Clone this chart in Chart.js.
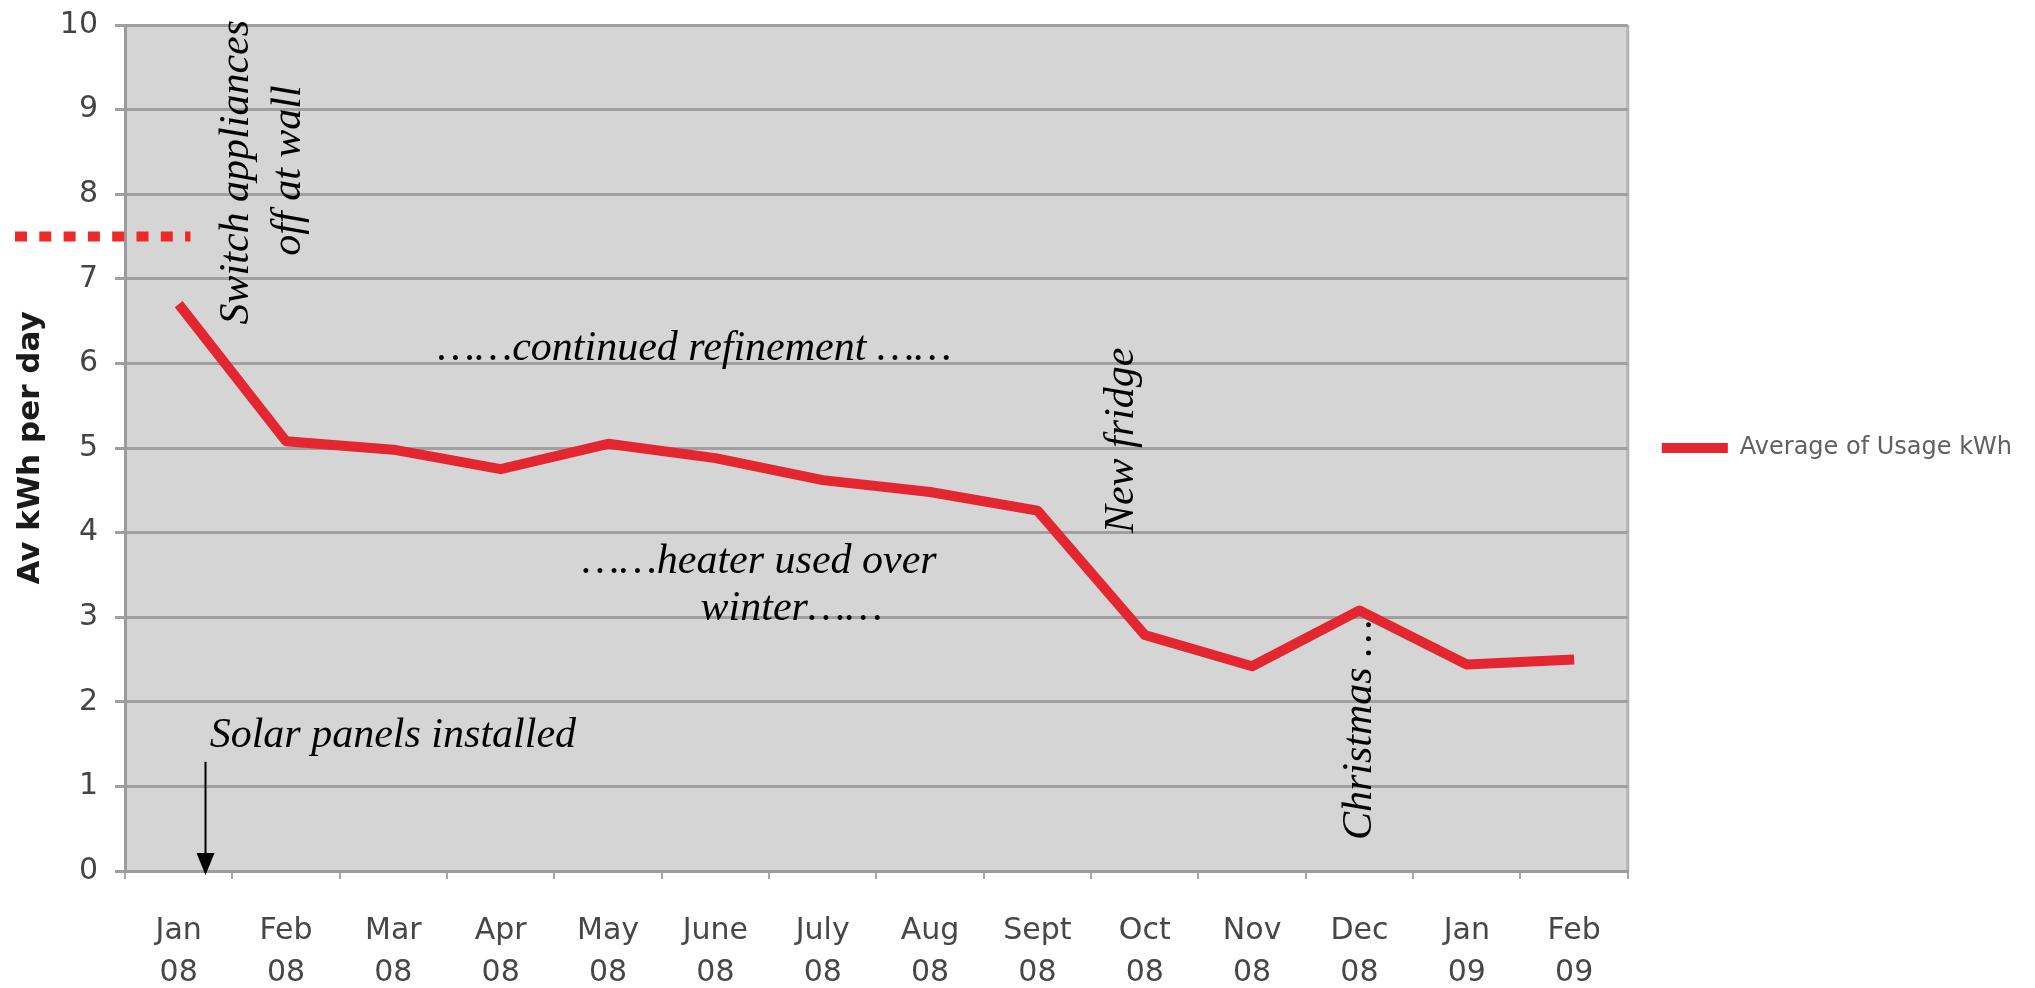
<!DOCTYPE html>
<html>
<head>
<meta charset="utf-8">
<script src="https://cdn.jsdelivr.net/npm/chart.js@4.4.1/dist/chart.umd.min.js"></script>
<style>
  html, body { margin: 0; padding: 0; background: #fff; }
  #wrap { width: 2035px; height: 988px; }
</style>
</head>
<body>
<div id="wrap"><canvas id="grafico"></canvas></div>
<script>
const meses = ["Jan", "Feb", "Mar", "Apr", "May", "June", "July", "Aug", "Sept", "Oct", "Nov", "Dec", "Jan", "Feb"];
const anos = ["08", "08", "08", "08", "08", "08", "08", "08", "08", "08", "08", "08", "09", "09"];
const usoMedio = [6.7, 5.08, 4.98, 4.75, 5.05, 4.88, 4.62, 4.48, 4.26, 2.79, 2.42, 3.08, 2.44, 2.5];
const serieNome = "Average of Usage kWh";
const eixoY = "Av kWh per day";

const VERMELHO = "#e3262f";
const SERIF = "italic 42px 'Liberation Serif', 'Times New Roman', serif";

// notas escritas por cima do grafico: [texto, indice do mes, valor, rodado?, alinhamento]
const notas = [
  ["Switch appliances", 0.643, 8.26, true, "center"],
  ["off at wall", 1.127, 8.28, true, "center"],
  ["\u2026\u2026continued refinement \u2026\u2026", 4.806, 6.04, false, "center"],
  ["\u2026\u2026heater used over", 5.41, 3.52, false, "center"],
  ["winter\u2026\u2026", 5.71, 2.97, false, "center"],
  ["New fridge", 8.886, 5.09, true, "center"],
  ["Christmas \u2026", 11.11, 1.67, true, "center"],
  ["Solar panels installed", 0.289, 1.47, false, "left"]
];

const anotacoes = {
  id: "anotacoes",
  beforeDraw(chart) {
    const { ctx, chartArea: a } = chart;
    ctx.save();
    ctx.fillStyle = "#d5d5d5";
    ctx.fillRect(a.left, a.top, a.right - a.left, a.bottom - a.top);
    ctx.strokeStyle = "#b4b4b4";
    ctx.lineWidth = 3;
    ctx.beginPath();
    ctx.moveTo(a.right, a.top);
    ctx.lineTo(a.right, a.bottom);
    ctx.stroke();
    ctx.restore();
  },
  afterDraw(chart) {
    const { ctx } = chart;
    const x = chart.scales.x;
    const y = chart.scales.y;

    ctx.save();
    ctx.fillStyle = "#000";
    ctx.font = SERIF;
    ctx.textBaseline = "alphabetic";
    notas.forEach(([txt, i, v, rodado, alinh]) => {
      ctx.save();
      ctx.translate(x.getPixelForValue(i), y.getPixelForValue(v));
      if (rodado) ctx.rotate(-Math.PI / 2);
      ctx.textAlign = alinh;
      ctx.fillText(txt, 0, 0);
      ctx.restore();
    });

    // seta dos paineis solares
    const sx = x.getPixelForValue(0.25);
    const ponta = y.getPixelForValue(0) + 4;
    ctx.strokeStyle = "#000";
    ctx.lineWidth = 2;
    ctx.beginPath();
    ctx.moveTo(sx, y.getPixelForValue(1.29));
    ctx.lineTo(sx, ponta - 18);
    ctx.stroke();
    ctx.beginPath();
    ctx.moveTo(sx - 9, ponta - 22);
    ctx.lineTo(sx + 9, ponta - 22);
    ctx.lineTo(sx, ponta);
    ctx.closePath();
    ctx.fill();

    // linha tracejada vermelha
    const ry = y.getPixelForValue(7.5);
    ctx.strokeStyle = "#ee2a26";
    ctx.lineWidth = 10;
    ctx.setLineDash([12, 12.3]);
    ctx.beginPath();
    ctx.moveTo(15, ry);
    ctx.lineTo(x.getPixelForValue(0.11), ry);
    ctx.stroke();
    ctx.restore();
  }
};

new Chart(document.getElementById("grafico"), {
  type: "line",
  data: {
    labels: meses.map((m, i) => [m, anos[i]]),
    datasets: [{
      label: serieNome,
      data: usoMedio,
      borderColor: VERMELHO,
      backgroundColor: VERMELHO,
      borderWidth: 10,
      borderJoinStyle: "round",
      borderCapStyle: "butt",
      tension: 0,
      pointRadius: 0,
      pointStyle: "line",
      fill: false
    }]
  },
  options: {
    responsive: true,
    maintainAspectRatio: false,
    animation: false,
    devicePixelRatio: 1,
    layout: { padding: { top: 25, left: 0, right: 13, bottom: 0 } },
    plugins: {
      tooltip: { enabled: false },
      legend: {
        position: "right",
        fullSize: false,
        maxWidth: 407,
        labels: {
          usePointStyle: true,
          pointStyleWidth: 66,
          boxWidth: 66,
          boxHeight: 9,
          padding: 34,
          color: "#606060",
          font: { family: "'DejaVu Sans', Verdana, sans-serif", size: 24 }
        }
      }
    },
    scales: {
      x: {
        offset: true,
        afterFit: (s) => { s.height = 117; },
        grid: { offset: true, drawOnChartArea: false, drawTicks: true, tickLength: 8, color: "#a8a8a8", lineWidth: 2 },
        border: { color: "#9c9c9c", width: 3 },
        ticks: {
          autoSkip: false,
          maxRotation: 0,
          padding: 31,
          color: "#474747",
          font: { family: "'DejaVu Sans', Verdana, sans-serif", size: 30, lineHeight: 1.4 }
        }
      },
      y: {
        min: 0,
        max: 10,
        afterFit: (s) => {
          s.width = 125;
          s.paddingTop = 18;
          s.paddingBottom = 18;
        },
        grid: { color: "#a0a0a0", lineWidth: 3, tickLength: 10 },
        border: { color: "#9c9c9c", width: 3 },
        ticks: {
          stepSize: 1,
          padding: 17,
          color: "#444",
          font: { family: "'DejaVu Sans', Verdana, sans-serif", size: 30 }
        },
        title: {
          display: true,
          text: eixoY,
          color: "#1a1a1a",
          padding: { top: 12, bottom: 0 },
          font: { family: "'DejaVu Sans', Verdana, sans-serif", size: 31, weight: "bold", lineHeight: 1.2 }
        }
      }
    }
  },
  plugins: [anotacoes]
});
</script>
</body>
</html>
